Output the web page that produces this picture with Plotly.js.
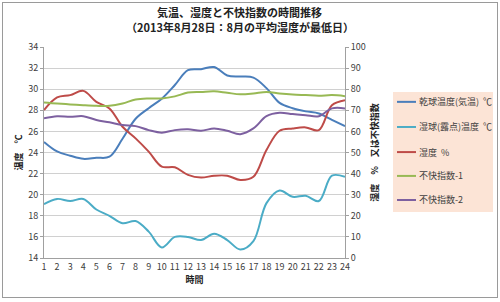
<!DOCTYPE html>
<html>
<head>
<meta charset="utf-8">
<script src="https://cdn.plot.ly/plotly-3.0.1.min.js"></script>
<style>
  body { margin: 0; background: #fff; }
  #wrap { position: relative; width: 500px; height: 302px; }
  #chart { width: 500px; height: 302px; }
  #frame { position: absolute; left: 2px; top: 2px; width: 494px; height: 294px;
           border: 1px solid #9a9a9a; pointer-events: none; }
</style>
</head>
<body>
<div id="wrap">
  <div id="chart"></div>
  <div id="frame"></div>
</div>
<script>
// hours of the day
const hours = [1, 2, 3, 4, 5, 6, 7, 8, 9, 10, 11, 12, 13, 14, 15, 16, 17, 18, 19, 20, 21, 22, 23, 24];

// left axis (°C)
const dryBulb = [25.0, 24.1, 23.7, 23.4, 23.5, 23.6, 25.3, 27.2, 28.2, 29.1, 30.4, 31.8,
                 31.9, 32.1, 31.3, 31.2, 31.1, 30.1, 28.7, 28.2, 27.9, 27.7, 27.1, 26.5];
const wetBulb = [19.1, 19.6, 19.4, 19.6, 18.6, 18.0, 17.3, 17.5, 16.5, 15.0, 16.0, 16.0,
                 15.7, 16.3, 15.7, 14.8, 15.6, 19.2, 20.4, 19.8, 19.9, 19.4, 21.8, 21.7];

// right axis (% or index)
const humidity = [70.1, 76.1, 77.2, 79.2, 74.0, 70.9, 62.2, 56.7, 50.4, 43.3, 43.0, 39.4,
                  38.1, 39.0, 39.0, 37.0, 38.5, 51.2, 60.3, 61.4, 61.9, 60.6, 72.4, 74.8];
const discomfort1 = [73.7, 73.2, 72.8, 72.4, 72.1, 72.1, 73.2, 75.1, 75.6, 75.6, 76.6, 78.4,
                     78.7, 79.0, 78.3, 77.6, 78.0, 78.7, 78.0, 77.5, 77.2, 76.9, 77.2, 76.7];
const discomfort2 = [66.2, 67.2, 66.9, 67.2, 65.4, 64.3, 63.0, 62.5, 60.6, 59.4, 60.6, 61.0,
                     60.3, 61.4, 60.3, 58.7, 61.4, 67.2, 68.8, 68.2, 67.7, 67.2, 70.9, 70.9];

const seriesNames = ['乾球温度(気温)  ℃', '湿球(露点)温度  ℃', '湿度  %', '不快指数-1', '不快指数-2'];
const seriesColors = ['#4a7ebb', '#4bacc6', '#be4b48', '#98b954', '#7d60a0'];

const leftTicks = [14, 16, 18, 20, 22, 24, 26, 28, 30, 32, 34];
const rightTicks = [0, 10, 20, 30, 40, 50, 60, 70, 80, 90, 100];

const titleLines = ['気温、湿度と不快指数の時間推移', '（2013年8月28日：8月の平均湿度が最低日）'];

const font = '"Noto Sans CJK JP", "Noto Sans", sans-serif';

function line(i, y, axis) {
    return {
        x: hours, y: y, name: seriesNames[i], yaxis: axis,
        type: 'scatter', mode: 'lines',
        line: { color: seriesColors[i], width: 2, shape: 'spline', smoothing: 1 },
        hoverinfo: 'x+y+name'
    };
}

const traces = [
    line(0, dryBulb, 'y'),
    line(1, wetBulb, 'y'),
    line(2, humidity, 'y2'),
    line(3, discomfort1, 'y2'),
    line(4, discomfort2, 'y2')
];

// legend drawn by hand so it fits the narrow right margin (paper coords)
const legendBox = { x0: 1.1595, x1: 1.4917, y0: 0.218, y1: 0.787 };
const legendRows = [0.740, 0.621, 0.502, 0.389, 0.275];

const shapes = [{
    type: 'rect', xref: 'paper', yref: 'paper', layer: 'below',
    x0: legendBox.x0, x1: legendBox.x1, y0: legendBox.y0, y1: legendBox.y1,
    fillcolor: '#fce4d6', line: { width: 0 }
}];
const annotations = [
    { text: '<b>' + titleLines[0] + '</b>', xref: 'paper', yref: 'paper',
      x: 0.651, y: 1.166, xanchor: 'center', yanchor: 'middle', showarrow: false,
      font: { size: 11, color: '#222' } },
    { text: '<b>' + titleLines[1] + '</b>', xref: 'paper', yref: 'paper',
      x: 0.651, y: 1.095, xanchor: 'center', yanchor: 'middle', showarrow: false,
      font: { size: 11, color: '#222' } }
];
seriesNames.forEach((name, i) => {
    shapes.push({
        type: 'line', xref: 'paper', yref: 'paper',
        x0: 1.1728, x1: 1.2359, y0: legendRows[i], y1: legendRows[i],
        line: { color: seriesColors[i], width: 2 }
    });
    annotations.push({
        text: name, xref: 'paper', yref: 'paper',
        x: 1.2392, y: legendRows[i], xanchor: 'left', yanchor: 'middle',
        showarrow: false, font: { size: 9, color: '#404040' }
    });
});

const layout = {
    width: 500, height: 302,
    margin: { l: 44, r: 155, t: 47, b: 44, autoexpand: false },
    paper_bgcolor: '#fff', plot_bgcolor: '#fff',
    font: { family: font, size: 9, color: '#404040' },
    showlegend: false,
    shapes: shapes,
    annotations: annotations,
    xaxis: {
        range: [1, 24],
        tickvals: hours,
        ticktext: hours.map(String),
        showgrid: false,
        showline: true, linecolor: '#a0a0a0', linewidth: 1,
        ticks: '', zeroline: false,
        title: { text: '<b>時間</b>', font: { size: 9, color: '#222' }, standoff: 2 }
    },
    yaxis: {
        range: [14, 34],
        tickvals: leftTicks,
        showgrid: true, gridcolor: '#d0d0d0', gridwidth: 1,
        showline: true, linecolor: '#a0a0a0', linewidth: 1,
        ticks: 'outside', ticklen: 3, tickcolor: '#a0a0a0',
        zeroline: false,
        title: { text: '<b>温度　℃</b>', font: { size: 9, color: '#222' }, standoff: 4 }
    },
    yaxis2: {
        range: [0, 100],
        tickvals: rightTicks,
        overlaying: 'y', side: 'right',
        showgrid: false,
        showline: true, linecolor: '#a0a0a0', linewidth: 1,
        ticks: 'outside', ticklen: 3, tickcolor: '#a0a0a0',
        zeroline: false,
        title: { text: '<b>湿度　%　又は不快指数</b>', font: { size: 9, color: '#222' }, standoff: 6 }
    }
};

Plotly.newPlot('chart', traces, layout, { displayModeBar: false, staticPlot: true });
</script>
</body>
</html>
